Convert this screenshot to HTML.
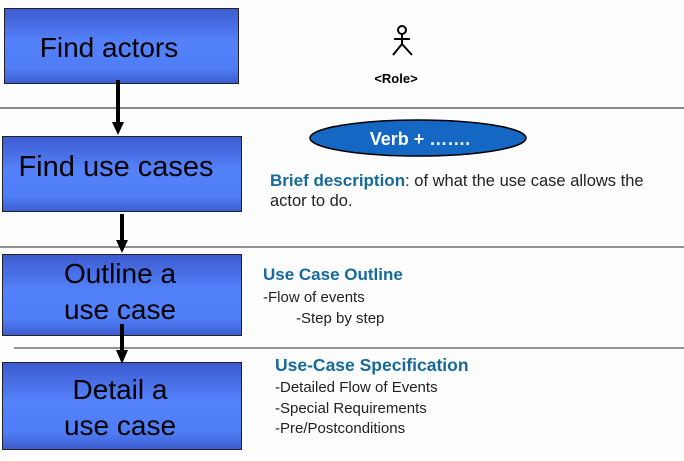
<!DOCTYPE html>
<html><head><meta charset="utf-8"><style>
html,body{margin:0;padding:0;background:#fdfdfd;}
svg{display:block;font-family:"Liberation Sans",Arial,sans-serif;}
</style></head><body>
<svg width="684" height="461" viewBox="0 0 684 461" xmlns="http://www.w3.org/2000/svg">
<defs>
<linearGradient id="g" x1="0" y1="0" x2="0" y2="1">
<stop offset="0" stop-color="#3d5bcf"/>
<stop offset="0.45" stop-color="#5482fb"/>
<stop offset="0.8" stop-color="#4f7df5"/>
<stop offset="1" stop-color="#3e5dd0"/>
</linearGradient>
</defs>
<rect width="684" height="461" fill="#fdfdfd"/>
<line x1="0" y1="108" x2="684" y2="108" stroke="#444" stroke-width="1.2"/>
<line x1="0" y1="247" x2="684" y2="247" stroke="#222" stroke-width="1"/>
<line x1="14" y1="348" x2="684" y2="348" stroke="#555" stroke-width="1.2"/>
<rect x="4.5" y="8.5" width="234" height="75" fill="url(#g)" stroke="#222" stroke-width="1"/>
<rect x="2.5" y="136.5" width="239" height="75" fill="url(#g)" stroke="#222" stroke-width="1"/>
<rect x="2.5" y="254.5" width="239" height="81" fill="url(#g)" stroke="#222" stroke-width="1"/>
<rect x="2.5" y="362.5" width="239" height="87" fill="url(#g)" stroke="#222" stroke-width="1"/>
<g stroke="#000" stroke-width="4" fill="#000">
<line x1="118" y1="80" x2="118" y2="124"/>
<line x1="122" y1="214" x2="122" y2="242"/>
<line x1="122" y1="324" x2="122" y2="352"/>
</g>
<g fill="#000">
<polygon points="112,122 124,122 118,135"/>
<polygon points="116,240 128,240 122,253"/>
<polygon points="116,350 128,350 122,364"/>
</g>
<g font-size="28" fill="#000" text-anchor="middle">
<text x="109" y="57">Find actors</text>
<text x="116" y="176" font-size="29">Find use cases</text>
<text x="120" y="283">Outline a</text>
<text x="120" y="319">use case</text>
<text x="120" y="399">Detail a</text>
<text x="120" y="435">use case</text>
</g>
<g stroke="#000" stroke-width="2" fill="none">
<circle cx="402" cy="30" r="4"/>
<line x1="402" y1="34" x2="402" y2="45"/>
<line x1="394" y1="39" x2="410" y2="39"/>
<line x1="402" y1="44" x2="393" y2="55"/>
<line x1="402" y1="44" x2="412" y2="55"/>
</g>
<text x="396" y="83" font-size="13" font-weight="bold" text-anchor="middle">&lt;Role&gt;</text>
<ellipse cx="418" cy="138" rx="108" ry="18" fill="#1468c4" stroke="#000" stroke-width="1.5"/>
<text x="420" y="145" font-size="18" font-weight="bold" fill="#fff" text-anchor="middle">Verb + …….</text>
<text x="270" y="186" font-size="17"><tspan font-weight="bold" fill="#16699a">Brief description</tspan><tspan fill="#222" font-size="16.5">: of what the use case allows the</tspan></text>
<text x="270" y="206" font-size="16.5" fill="#222">actor to do.</text>
<text x="263" y="280" font-size="17" font-weight="bold" fill="#16699a">Use Case Outline</text>
<text x="263" y="302" font-size="15" fill="#222">-Flow of events</text>
<text x="296" y="323" font-size="15" fill="#222">-Step by step</text>
<text x="275" y="371" font-size="17.5" font-weight="bold" fill="#16699a">Use-Case Specification</text>
<text x="275" y="392" font-size="15" fill="#222">-Detailed Flow of Events</text>
<text x="275" y="413" font-size="15" fill="#222">-Special Requirements</text>
<text x="275" y="433" font-size="15" fill="#222">-Pre/Postconditions</text>
</svg>
</body></html>
